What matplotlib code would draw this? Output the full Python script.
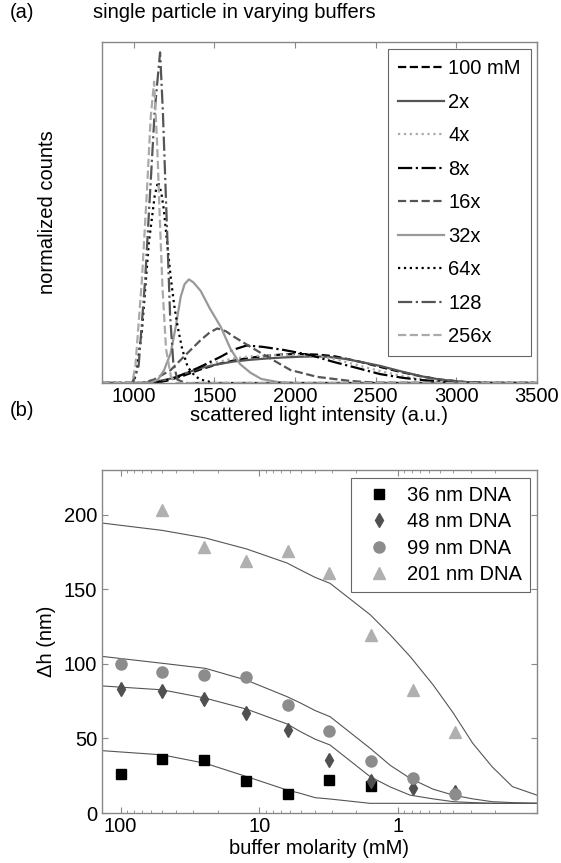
import numpy as np
import matplotlib.pyplot as plt

plt.rcParams['font.family'] = ['Liberation Sans', 'DejaVu Sans']
plt.rcParams['font.size'] = 14.5

# ---- panel (a): intensity histograms ----
labels_a = ["100 mM", "2x", "4x", "8x", "16x", "32x", "64x", "128", "256x"]

x_100mM = [800, 1100, 1200, 1300, 1415, 1520, 1620, 1720, 1828, 1930, 2034, 2150, 2250, 2405, 2529, 2650, 2780, 2900, 3050, 3200, 3500]
y_100mM = [0, 0, 0.006, 0.02, 0.04, 0.055, 0.066, 0.074, 0.08, 0.084, 0.085, 0.083, 0.078, 0.062, 0.047, 0.033, 0.02, 0.01, 0.003, 0, 0]

x_2x = [800, 1050, 1150, 1250, 1330, 1415, 1520, 1620, 1720, 1828, 1930, 2034, 2120, 2199, 2323, 2405, 2529, 2650, 2780, 2900, 3050, 3200, 3500]
y_2x = [0, 0, 0.005, 0.015, 0.03, 0.044, 0.055, 0.063, 0.068, 0.072, 0.075, 0.077, 0.078, 0.077, 0.07, 0.062, 0.05, 0.035, 0.02, 0.01, 0.003, 0, 0]

x_4x = [800, 1100, 1200, 1300, 1415, 1520, 1620, 1720, 1828, 1930, 2034, 2150, 2250, 2405, 2529, 2650, 2780, 2900, 3050, 3200, 3500]
y_4x = [0, 0, 0.008, 0.025, 0.048, 0.062, 0.072, 0.078, 0.081, 0.083, 0.082, 0.078, 0.07, 0.05, 0.035, 0.022, 0.012, 0.005, 0.001, 0, 0]

x_8x = [800, 1100, 1167, 1250, 1332, 1415, 1539, 1620, 1700, 1800, 1929, 2095, 2238, 2385, 2529, 2671, 2800, 2919, 3000, 3500]
y_8x = [0, 0, 0.004, 0.015, 0.03, 0.048, 0.077, 0.098, 0.11, 0.106, 0.097, 0.082, 0.062, 0.044, 0.026, 0.015, 0.008, 0.004, 0, 0]

x_16x = [800, 1050, 1125, 1229, 1310, 1415, 1470, 1518, 1570, 1620, 1724, 1828, 1972, 2137, 2343, 2500, 3500]
y_16x = [0, 0, 0.01, 0.038, 0.077, 0.126, 0.148, 0.16, 0.152, 0.136, 0.106, 0.077, 0.038, 0.018, 0.006, 0.001, 0]

x_32x = [800, 1100, 1150, 1188, 1229, 1260, 1291, 1315, 1342, 1370, 1415, 1470, 1539, 1600, 1660, 1724, 1790, 1890, 2000, 3500]
y_32x = [0, 0, 0.01, 0.038, 0.088, 0.165, 0.253, 0.29, 0.304, 0.295, 0.27, 0.22, 0.165, 0.1, 0.055, 0.03, 0.012, 0.003, 0, 0]

x_64x = [800, 990, 1012, 1050, 1093, 1130, 1150, 1170, 1186, 1205, 1229, 1250, 1272, 1300, 1334, 1380, 1415, 1500, 3500]
y_64x = [0, 0, 0.02, 0.15, 0.41, 0.55, 0.59, 0.56, 0.51, 0.42, 0.31, 0.23, 0.165, 0.1, 0.047, 0.02, 0.01, 0, 0]

x_128 = [800, 990, 1030, 1070, 1100, 1130, 1163, 1180, 1195, 1210, 1225, 1245, 1270, 1320, 3500]
y_128 = [0, 0, 0.05, 0.3, 0.55, 0.8, 0.97, 0.8, 0.6, 0.4, 0.2, 0.06, 0.01, 0, 0]

x_256x = [800, 990, 1010, 1050, 1080, 1105, 1126, 1145, 1160, 1178, 1200, 1230, 1260, 3500]
y_256x = [0, 0, 0.05, 0.3, 0.55, 0.78, 0.884, 0.7, 0.5, 0.28, 0.1, 0.02, 0, 0]

# ---- panel (b): step height vs buffer molarity ----
conc = [100, 50, 25, 12.5, 6.25, 3.125, 1.5625, 0.78, 0.39]
dh_36 = [26.4, 36.5, 35.6, 21.7, 12.8, 22, 18]
dh_48 = [83, 82, 76.3, 67, 56, 35.4, 21.5, 17, 14]
dh_99 = [100, 94.8, 92.6, 91.5, 72.5, 55, 35, 23.5, 12.8]
conc_201 = [50, 25, 12.5, 6.25, 3.125, 1.5625, 0.78, 0.39]
dh_201 = [203, 178.7, 169, 176, 161, 119.5, 82.5, 54]

# fitted curves, sampled from the figure
fit_conc = [135, 50, 24.4, 12.3, 6.3, 5.06, 3.96, 3.09, 1.59, 1.14, 0.82, 0.56, 0.40, 0.29, 0.21, 0.15, 0.10]
fit_36 = [41.8, 39, 33.3, 24.4, 15.4, 13.2, 10.3, 9.4, 6.5, 6.5, 6.5, 6.5, 6.5, 6.5, 6.5, 6.5, 6.5]
fit_48 = [85.2, 82.6, 77, 69.6, 59.7, 54.6, 49.5, 45.6, 24.4, 17.5, 12, 9.5, 7.6, 7, 6.5, 6.5, 6.5]
fit_99 = [105, 100.4, 97, 89, 78, 73.8, 68.7, 64.6, 43.4, 32, 23.3, 16, 12, 9.5, 7.6, 7, 6.5]
fit_201 = [194.4, 189.5, 184.4, 177, 167.6, 163, 158, 154, 133, 119.5, 105, 86, 67, 46.8, 31, 17.7, 12]

fig = plt.figure(figsize=(5.61, 8.63), dpi=100)
ax1 = fig.add_axes([0.181, 0.5562, 0.776, 0.395])
ax2 = fig.add_axes([0.181, 0.0579, 0.776, 0.3975])

dark = '#555555'
mid = '#999999'
light = '#aaaaaa'
curves = [(x_100mM, y_100mM, 'k', '--'), (x_2x, y_2x, dark, '-'), (x_4x, y_4x, light, ':'),
          (x_8x, y_8x, 'k', '-.'), (x_16x, y_16x, dark, '--'), (x_32x, y_32x, mid, '-'),
          (x_64x, y_64x, 'k', ':'), (x_128, y_128, dark, '-.'), (x_256x, y_256x, light, '--')]
for (xs, ys, c, ls), lab in zip(curves, labels_a):
    ax1.plot(xs, ys, color=c, linestyle=ls, linewidth=1.6, label=lab)

ax1.set_xlim(800, 3500)
ax1.set_ylim(0, 1)
ax1.set_xticks([1000, 1500, 2000, 2500, 3000, 3500])
ax1.set_yticks([])
ax1.set_xlabel("scattered light intensity (a.u.)", labelpad=0)
ax1.set_ylabel("normalized counts", labelpad=32)
leg1 = ax1.legend(loc='upper right', bbox_to_anchor=(0.986, 0.979), borderaxespad=0,
                  fancybox=False, edgecolor='#666666', framealpha=1,
                  handlelength=2.3, handletextpad=0.2, labelspacing=0.72, borderpad=0.5)
leg1.get_frame().set_linewidth(0.8)

# panel (b)
ax2.set_xscale('log')
ax2.plot(fit_conc, fit_36, color=dark, lw=0.8)
ax2.plot(fit_conc, fit_48, color=dark, lw=0.8)
ax2.plot(fit_conc, fit_99, color=dark, lw=0.8)
ax2.plot(fit_conc, fit_201, color=dark, lw=0.8)
ax2.plot(conc[:len(dh_36)], dh_36, 's', color='k', ms=7, ls='none', label="36 nm DNA")
ax2.plot(conc, dh_48, 'd', color='#505050', ms=7.5, ls='none', label="48 nm DNA")
ax2.plot(conc, dh_99, 'o', color='#8c8c8c', ms=8, ls='none', label="99 nm DNA")
ax2.plot(conc_201, dh_201, '^', color='#b0b0b0', ms=9, ls='none', label="201 nm DNA")

ax2.set_xlim(137, 0.1)
ax2.set_ylim(0, 230)
ax2.set_xticks([100, 10, 1])
ax2.set_xticklabels(["100", "10", "1"])
ax2.set_yticks([0, 50, 100, 150, 200])
ax2.set_xlabel("buffer molarity (mM)", labelpad=2)
ax2.set_ylabel("Δh (nm)", labelpad=6)
leg2 = ax2.legend(loc='upper right', bbox_to_anchor=(0.984, 0.977), borderaxespad=0,
                  fancybox=False, edgecolor='#666666', framealpha=1,
                  handlelength=2.0, handletextpad=0.4, labelspacing=0.37, borderpad=0.4)
leg2.get_frame().set_linewidth(0.8)

for ax in (ax1, ax2):
    for s in ax.spines.values():
        s.set_color('#888888')
        s.set_linewidth(1.0)
    ax.tick_params(which='both', direction='in', top=True, right=True, color='#888888', pad=3)
    ax.tick_params(which='major', length=4)
    ax.tick_params(which='minor', length=2.5)

fig.text(234 / 561, 1 - 12 / 863, "single particle in varying buffers", ha='center', va='center')
fig.text(10 / 561, 1 - 12 / 863, "(a)", ha='left', va='center')
fig.text(10 / 561, 1 - 410 / 863, "(b)", ha='left', va='center')

fig.savefig("out.png", dpi=100)
